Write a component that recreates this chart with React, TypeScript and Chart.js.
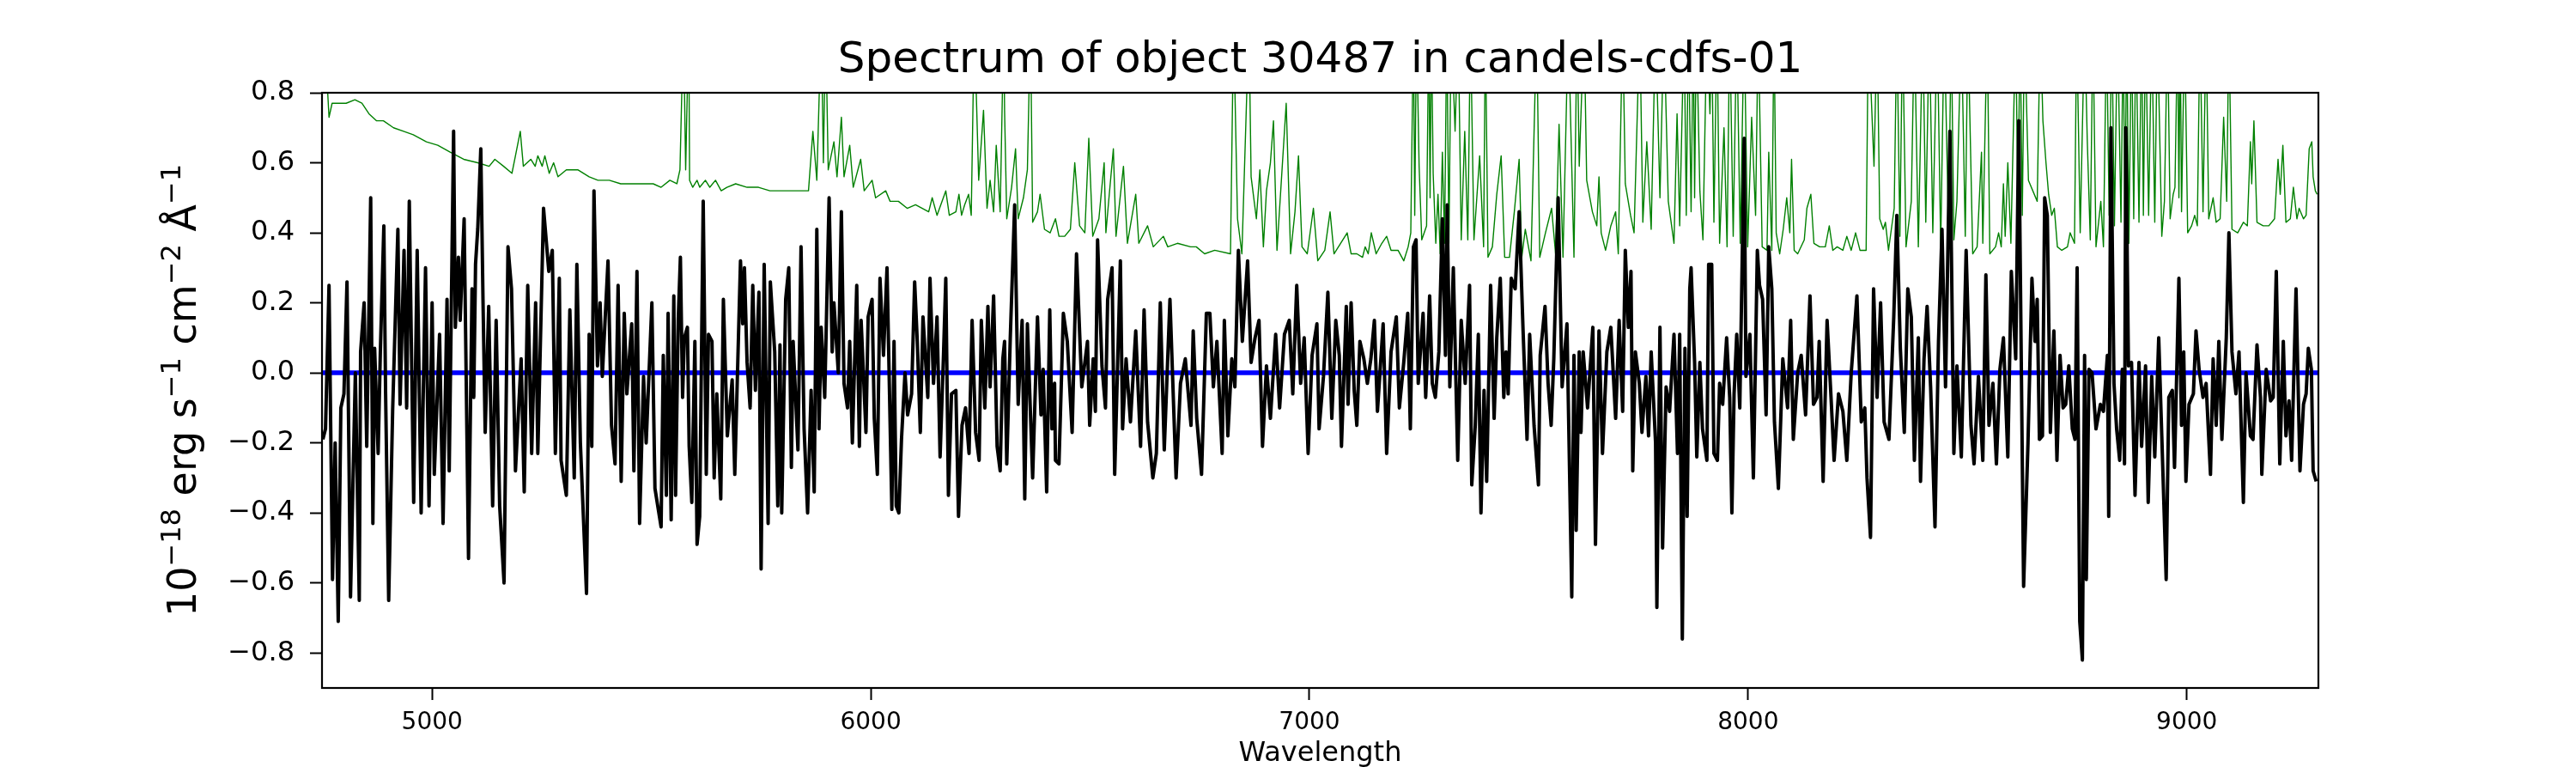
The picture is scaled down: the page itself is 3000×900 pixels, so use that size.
import { useEffect, useRef } from "react";
import { Chart, registerables, type Plugin } from "chart.js";

Chart.register(...registerables);

// axis ticks
const xTicks = [5000, 6000, 7000, 8000, 9000];
const yTicks = [-0.8, -0.6, -0.4, -0.2, 0.0, 0.2, 0.4, 0.6, 0.8];

const fluxWave = [
  4751, 4757, 4765, 4773, 4779, 4786, 4792, 4799, 4806, 4814,
  4825, 4834, 4837, 4845, 4851, 4860, 4865, 4869, 4877, 4882,
  4890, 4894, 4901, 4910, 4922, 4927, 4936, 4942, 4948, 4958,
  4966, 4975, 4985, 4993, 5000, 5005, 5017, 5025, 5034, 5039,
  5049, 5053, 5060, 5064, 5073, 5083, 5091, 5095, 5099, 5104,
  5111, 5116, 5121, 5129, 5138, 5146, 5154, 5164, 5173, 5181,
  5190, 5203, 5210, 5218, 5227, 5236, 5241, 5254, 5266, 5274,
  5281, 5290, 5294, 5306, 5314, 5324, 5330, 5338, 5352, 5358,
  5364, 5369, 5377, 5383, 5388, 5401, 5409, 5417, 5424, 5431,
  5438, 5444, 5455, 5460, 5467, 5473, 5482, 5488, 5501, 5508,
  5522, 5527, 5534, 5538, 5545, 5551, 5555, 5561, 5566, 5571,
  5575, 5582, 5586, 5592, 5599, 5604, 5610, 5618, 5625, 5630,
  5638, 5643, 5649, 5658, 5664, 5673, 5684, 5690, 5703, 5708,
  5712, 5718, 5725, 5731, 5737, 5745, 5750, 5757, 5766, 5771,
  5781, 5788, 5793, 5797, 5806, 5813, 5819, 5823, 5834, 5841,
  5848, 5856, 5864, 5871, 5877, 5882, 5887, 5895, 5905, 5912,
  5916, 5926, 5933, 5939, 5947, 5952, 5958, 5968, 5974, 5978,
  5989, 5994, 6003, 6008, 6015, 6021, 6029, 6037, 6048, 6053,
  6058, 6064, 6070, 6078, 6084, 6093, 6100, 6106, 6113, 6119,
  6130, 6135, 6143, 6151, 6158, 6166, 6171, 6177, 6184, 6194,
  6200, 6208, 6216, 6224, 6231, 6239, 6247, 6252, 6260, 6267,
  6272, 6280, 6288, 6295, 6301, 6305, 6310, 6318, 6328, 6336,
  6345, 6351, 6357, 6369, 6380, 6388, 6393, 6401, 6408, 6413,
  6419, 6421, 6429, 6439, 6448, 6459, 6469, 6481, 6494, 6499,
  6507, 6512, 6517, 6527, 6535, 6540, 6550, 6556, 6569, 6574,
  6582, 6592, 6604, 6615, 6623, 6631, 6643, 6651, 6660, 6669,
  6682, 6696, 6706, 6717, 6730, 6735, 6743, 6754, 6765, 6773,
  6781, 6789, 6801, 6806, 6814, 6823, 6830, 6838, 6847, 6859,
  6867, 6876, 6885, 6893, 6902, 6911, 6923, 6932, 6943, 6954,
  6962, 6971, 6980, 6988, 6997, 7006, 7017, 7022, 7032, 7042,
  7051, 7060, 7068, 7073, 7084, 7088, 7095, 7102, 7108, 7115,
  7124, 7132, 7140, 7148, 7155, 7168, 7176, 7186, 7198, 7205,
  7215, 7224, 7230, 7237, 7243, 7248, 7259, 7265, 7274, 7280,
  7287, 7295, 7303, 7310, 7314, 7320, 7328, 7338, 7346, 7355,
  7365, 7370, 7378, 7385, 7391, 7398, 7404, 7413, 7421, 7427,
  7435, 7443, 7448, 7453, 7460, 7469, 7478, 7487, 7496, 7502,
  7512, 7522, 7526, 7537, 7544, 7551, 7557, 7567, 7576, 7587,
  7598, 7603, 7608, 7615, 7619, 7624, 7634, 7646, 7652, 7660,
  7668, 7678, 7687, 7698, 7706, 7714, 7720, 7727, 7733, 7737,
  7743, 7752, 7758, 7767, 7773, 7779, 7789, 7792, 7799, 7805,
  7813, 7821, 7831, 7839, 7844, 7850, 7856, 7861, 7867, 7870,
  7878, 7883, 7890, 7896, 7906, 7910, 7917, 7922, 7930, 7935,
  7942, 7951, 7958, 7963, 7968, 7974, 7981, 7991, 7995, 8004,
  8012, 8021, 8026, 8033, 8041, 8047, 8054, 8060, 8069, 8079,
  8090, 8097, 8103, 8113, 8121, 8131, 8141, 8149, 8157, 8162,
  8171, 8180, 8189, 8196, 8206, 8216, 8225, 8235, 8248, 8258,
  8266, 8271, 8279, 8286, 8294, 8302, 8310, 8321, 8332, 8339,
  8347, 8356, 8364, 8372, 8379, 8388, 8393, 8401, 8408, 8416,
  8426, 8434, 8442, 8450, 8460, 8469, 8476, 8486, 8497, 8508,
  8515, 8525, 8535, 8542, 8549, 8558, 8566, 8574, 8582, 8592,
  8600, 8610, 8617, 8628, 8638, 8647, 8654, 8659, 8664, 8671,
  8676, 8682, 8689, 8697, 8704, 8711, 8718, 8724, 8731, 8739,
  8745, 8750, 8756, 8762, 8767, 8771, 8777, 8784, 8793, 8803,
  8810, 8819, 8822, 8827, 8834, 8840, 8847, 8853, 8858, 8861,
  8867, 8874, 8882, 8891, 8897, 8906, 8912, 8920, 8927, 8936,
  8943, 8953, 8959, 8967, 8972, 8982, 8988, 8993, 8998, 9005,
  9015, 9021, 9028, 9037, 9044, 9054, 9060, 9067, 9073, 9080,
  9090, 9096, 9103, 9112, 9119, 9129, 9135, 9145, 9151, 9160,
  9168, 9171, 9181, 9191, 9197, 9204, 9212, 9220, 9226, 9233,
  9239, 9249, 9258, 9266, 9272, 9277, 9284, 9288, 9295,
];
const fluxValues = [
  -0.19, -0.16, 0.25, -0.59, -0.2, -0.71, -0.1, -0.06, 0.26, -0.64,
  0.0, -0.65, 0.06, 0.2, -0.21, 0.5, -0.43, 0.07, -0.23, 0.06,
  0.42, -0.06, -0.65, -0.11, 0.41, -0.09, 0.35, -0.1, 0.49, -0.37,
  0.35, -0.4, 0.3, -0.38, 0.2, -0.29, 0.11, -0.43, 0.21, -0.28,
  0.69, 0.13, 0.33, 0.15, 0.44, -0.53, 0.24, -0.07, 0.31, 0.41,
  0.64, 0.21, -0.17, 0.19, -0.38, 0.15, -0.38, -0.6, 0.36, 0.24,
  -0.28, 0.04, -0.34, 0.25, -0.23, 0.2, -0.23, 0.47, 0.29, 0.35,
  -0.23, 0.27, -0.25, -0.35, 0.18, -0.3, 0.31, -0.2, -0.63, 0.11,
  -0.21, 0.52, 0.02, 0.2, -0.01, 0.32, -0.15, -0.26, 0.25, -0.31,
  0.17, -0.06, 0.14, -0.28, 0.29, -0.43, -0.01, -0.2, 0.2, -0.33,
  -0.44, 0.05, -0.35, 0.17, -0.42, 0.22, -0.35, 0.15, 0.33, -0.07,
  0.1, 0.13, -0.21, -0.37, 0.09, -0.49, -0.41, 0.49, -0.29, 0.11,
  0.09, -0.3, -0.06, -0.36, 0.21, -0.18, -0.02, -0.29, 0.32, 0.14,
  0.3, 0.03, -0.1, 0.25, -0.05, 0.23, -0.56, 0.31, -0.43, 0.26,
  0.06, -0.38, 0.08, -0.4, 0.21, 0.3, -0.27, 0.09, -0.22, 0.36,
  -0.16, -0.4, -0.05, -0.34, 0.41, -0.16, 0.13, -0.07, 0.5, 0.06,
  0.2, 0.0, 0.46, -0.03, -0.1, 0.09, -0.2, 0.25, -0.21, 0.15,
  -0.17, 0.16, 0.21, -0.13, -0.29, 0.27, 0.05, 0.3, -0.39, 0.09,
  -0.38, -0.4, -0.19, 0.0, -0.12, -0.06, 0.26, 0.09, -0.17, 0.16,
  -0.07, 0.27, -0.03, 0.16, -0.24, 0.06, 0.27, -0.35, -0.06, -0.05,
  -0.41, -0.15, -0.1, -0.23, 0.15, -0.17, -0.25, 0.15, -0.1, 0.19,
  -0.04, 0.22, -0.21, -0.28, 0.04, 0.09, -0.26, 0.1, 0.48, -0.09,
  0.15, -0.36, 0.14, -0.3, 0.16, -0.12, 0.01, -0.34, 0.18, -0.16,
  -0.03, -0.25, -0.26, 0.17, 0.09, -0.17, 0.34, -0.04, 0.09, -0.15,
  0.04, -0.11, 0.38, 0.02, -0.1, 0.21, 0.3, -0.29, 0.32, -0.16,
  0.04, -0.14, 0.12, -0.21, 0.18, -0.14, -0.3, -0.23, 0.2, -0.22,
  0.21, -0.3, -0.03, 0.04, -0.15, 0.12, -0.13, -0.29, 0.17, 0.17,
  -0.04, 0.09, -0.23, 0.15, -0.18, 0.04, -0.04, 0.35, 0.09, 0.32,
  0.03, 0.1, 0.15, -0.21, 0.02, -0.13, 0.11, -0.1, 0.11, 0.15,
  -0.06, 0.25, -0.03, 0.1, -0.23, 0.05, 0.14, -0.16, -0.01, 0.23,
  -0.13, 0.15, 0.05, -0.21, 0.19, -0.09, 0.2, -0.05, -0.15, 0.09,
  0.04, -0.03, 0.04, 0.15, -0.11, 0.14, -0.23, 0.06, 0.16, -0.1,
  0.03, 0.17, -0.16, 0.36, 0.38, -0.03, 0.17, -0.07, 0.22, -0.03,
  -0.07, 0.06, 0.44, 0.05, 0.48, -0.04, 0.3, -0.25, 0.15, -0.03,
  0.25, -0.32, -0.15, 0.11, -0.4, -0.05, -0.31, 0.25, -0.13, 0.1,
  0.27, -0.07, 0.06, -0.06, 0.27, 0.24, 0.46, 0.12, -0.19, 0.11,
  -0.15, -0.32, 0.05, 0.19, -0.03, -0.15, 0.04, 0.5, -0.04, 0.14,
  -0.64, 0.05, -0.45, 0.06, -0.17, 0.06, -0.1, 0.13, -0.49, 0.12,
  -0.23, 0.06, 0.13, -0.13, 0.15, -0.11, 0.35, 0.13, 0.29, -0.28,
  0.06, -0.03, -0.17, -0.01, -0.18, 0.06, -0.2, -0.67, 0.13, -0.5,
  -0.04, -0.11, 0.11, -0.23, 0.11, -0.76, 0.07, -0.41, 0.24, 0.3,
  0.03, -0.24, 0.03, -0.16, -0.25, 0.31, 0.31, -0.23, -0.25, -0.03,
  -0.09, 0.1, -0.07, -0.4, -0.06, 0.11, -0.1, 0.67, -0.01, 0.11,
  -0.3, 0.35, 0.25, 0.21, -0.12, 0.36, 0.24, -0.14, -0.33, 0.04,
  -0.1, 0.15, -0.19, 0.0, 0.05, -0.12, 0.22, -0.09, -0.07, 0.09,
  -0.31, 0.15, -0.07, -0.25, -0.06, -0.11, -0.25, 0.0, 0.22, -0.14,
  -0.1, -0.3, -0.47, 0.24, -0.07, 0.2, -0.14, -0.19, 0.16, 0.45,
  0.07, -0.17, 0.24, 0.16, -0.25, 0.1, -0.31, 0.04, 0.19, -0.04,
  -0.44, 0.09, 0.41, -0.04, 0.69, -0.23, 0.02, -0.24, 0.35, -0.15,
  -0.26, -0.01, -0.25, 0.28, -0.15, -0.03, -0.26, 0.01, 0.1, -0.24,
  0.29, 0.04, 0.72, -0.61, -0.2, 0.27, 0.09, 0.21, -0.19, -0.18,
  0.5, 0.45, -0.17, 0.12, -0.25, 0.05, -0.1, -0.09, 0.02, -0.16,
  -0.19, 0.3, -0.71, -0.82, 0.05, -0.59, 0.01, 0.0, -0.16, -0.09,
  -0.11, 0.05, -0.41, 0.7, -0.03, -0.16, -0.25, 0.01, -0.26, 0.7,
  0.02, 0.03, -0.35, 0.03, -0.21, 0.02, -0.37, -0.01, -0.24, 0.1,
  -0.18, -0.59, -0.07, -0.05, -0.27, 0.27, -0.15, 0.06, -0.31, -0.09,
  -0.06, 0.12, 0.01, -0.07, -0.03, -0.29, 0.04, -0.15, 0.09, -0.19,
  0.1, 0.4, 0.06, -0.06, 0.06, -0.37, 0.0, -0.18, -0.19, 0.08,
  -0.07, -0.29, 0.01, -0.08, -0.07, 0.29, -0.26, 0.09, -0.18, -0.08,
  -0.25, 0.24, -0.28, -0.09, -0.06, 0.07, 0.01, -0.28, -0.31,
];

// noise / error spectrum (green), spikes run off the top of the axes
const noiseWave = [
  4750, 4762, 4765, 4772, 4804, 4824, 4840, 4856, 4873, 4889,
  4912, 4935, 4957, 4987, 5013, 5042, 5072, 5104, 5130, 5143,
  5163, 5182, 5190, 5201, 5208, 5225, 5235, 5241, 5251, 5257,
  5267, 5277, 5287, 5306, 5332, 5358, 5378, 5404, 5430, 5459,
  5482, 5504, 5522, 5542, 5558, 5565, 5573, 5578, 5585, 5587,
  5594, 5604, 5610, 5623, 5633, 5646, 5659, 5672, 5692, 5718,
  5744, 5770, 5796, 5828, 5858, 5868, 5877, 5887, 5892, 5897,
  5903, 5916, 5923, 5933, 5939, 5952, 5960, 5977, 5985, 6003,
  6011, 6034, 6044, 6063, 6083, 6102, 6132, 6140, 6151, 6171,
  6179, 6194, 6201, 6207, 6214, 6223, 6229, 6236, 6246, 6257,
  6265, 6272, 6280, 6286, 6295, 6303, 6305, 6310, 6321, 6330,
  6336, 6348, 6357, 6364, 6369, 6380, 6386, 6396, 6409, 6421,
  6429, 6442, 6455, 6465, 6476, 6488, 6497, 6506, 6520, 6532,
  6536, 6543, 6553, 6559, 6576, 6585, 6604, 6611, 6631, 6644,
  6667, 6677, 6699, 6729, 6742, 6761, 6784, 6820, 6827, 6836,
  6846, 6862, 6867, 6879, 6887, 6895, 6902, 6911, 6918, 6926,
  6937, 6947, 6957, 6967, 6975, 6983, 6995, 7009, 7019, 7035,
  7047, 7056, 7071, 7086, 7095, 7108, 7121, 7127, 7134, 7141,
  7152, 7165, 7176, 7186, 7202, 7215, 7225, 7231, 7237, 7240, 7244,
  7250, 7256, 7267, 7272, 7275, 7278, 7282, 7288, 7293, 7298, 7303,
  7308, 7313, 7318, 7323, 7332, 7339, 7346, 7354, 7361, 7367,
  7375, 7388, 7397, 7401, 7407, 7417, 7427, 7437, 7445, 7456,
  7467, 7478, 7484, 7492, 7505, 7518, 7525, 7538, 7552, 7561,
  7569, 7578, 7590, 7603, 7610, 7615, 7626, 7632, 7645, 7655,
  7660, 7665, 7675, 7687, 7698, 7704, 7714, 7720, 7732, 7740,
  7753, 7760, 7769, 7779, 7789, 7799, 7808, 7818, 7831, 7838,
  7844, 7854, 7859, 7864, 7870, 7875, 7878, 7882, 7890, 7897, 7906, 7913,
  7917, 7922, 7929, 7935, 7945, 7952, 7958, 7966, 7974, 7982,
  7991, 7999, 8008, 8017, 8023, 8032, 8043, 8047, 8054, 8059,
  8064, 8072, 8080, 8088, 8095, 8099, 8105, 8113, 8128, 8134,
  8143, 8150, 8163, 8176, 8185, 8193, 8203, 8216, 8225, 8235,
  8245, 8255, 8269, 8274, 8287, 8294, 8300, 8308, 8313, 8320,
  8333, 8339, 8346, 8352, 8360, 8372, 8379, 8388, 8398, 8405,
  8413, 8421, 8431, 8439, 8447, 8457, 8463, 8469, 8476, 8486,
  8495, 8501, 8512, 8522, 8532, 8535, 8545, 8551, 8564, 8571,
  8577, 8582, 8586, 8592, 8599, 8610, 8615, 8620, 8625, 8630, 8639, 8659,
  8666, 8672, 8679, 8685, 8692, 8698, 8705, 8715, 8728, 8734,
  8744, 8749, 8757, 8767, 8773, 8780, 8786, 8793, 8804, 8810,
  8817, 8823, 8829, 8835, 8842, 8850, 8855, 8859, 8863, 8868, 8874, 8879, 8884,
  8891, 8897, 8901, 8906, 8913, 8920, 8927, 8933, 8943, 8949, 8956,
  8962, 8969, 8973, 8979, 8982, 8985, 8988, 8995, 9002, 9011, 9018,
  9024, 9030, 9037, 9044, 9050, 9060, 9067, 9076, 9084, 9091,
  9096, 9103, 9116, 9129, 9138, 9145, 9148, 9153, 9160, 9174,
  9187, 9200, 9208, 9213, 9219, 9226, 9236, 9243, 9251, 9256,
  9266, 9272, 9279, 9285, 9288, 9293, 9297,
];
const noiseValues = [
  0.85, 0.8, 0.73, 0.77, 0.77, 0.78, 0.77, 0.74, 0.72, 0.72,
  0.7, 0.69, 0.68, 0.66, 0.65, 0.63, 0.61, 0.6, 0.59, 0.61,
  0.59, 0.57, 0.62, 0.69, 0.59, 0.61, 0.59, 0.62, 0.59, 0.62,
  0.57, 0.6, 0.56, 0.58, 0.58, 0.56, 0.55, 0.55, 0.54, 0.54,
  0.54, 0.54, 0.53, 0.55, 0.54, 0.58, 1.0, 0.58, 1.0, 0.55,
  0.53, 0.55, 0.53, 0.55, 0.53, 0.55, 0.52, 0.53, 0.54, 0.53,
  0.53, 0.52, 0.52, 0.52, 0.52, 0.69, 0.55, 1.0, 0.6, 1.0,
  0.58, 0.66, 0.56, 0.73, 0.56, 0.65, 0.53, 0.61, 0.52, 0.55,
  0.5, 0.52, 0.49, 0.49, 0.47, 0.48, 0.46, 0.5, 0.45, 0.52,
  0.45, 0.46, 0.51, 0.45, 0.48, 0.51, 0.45, 1.0, 0.55, 0.75,
  0.47, 0.55, 0.46, 0.65, 0.46, 1.0, 0.75, 0.44, 0.53, 0.64,
  0.44, 0.5, 0.58, 1.0, 0.43, 0.46, 0.51, 0.41, 0.4, 0.44,
  0.39, 0.39, 0.41, 0.6, 0.42, 0.4, 0.67, 0.39, 0.44, 0.6,
  0.4, 0.5, 0.64, 0.39, 0.59, 0.37, 0.51, 0.37, 0.42, 0.36,
  0.39, 0.36, 0.37, 0.36, 0.36, 0.34, 0.35, 0.34, 1.0, 0.44,
  0.34, 1.0, 0.56, 0.44, 0.58, 0.36, 0.52, 0.6, 0.72, 0.35,
  0.57, 0.77, 0.34, 0.46, 0.62, 0.36, 0.34, 0.47, 0.32, 0.35,
  0.46, 0.34, 0.37, 0.4, 0.34, 0.34, 0.33, 0.36, 0.34, 0.4,
  0.34, 0.37, 0.39, 0.35, 0.35, 0.32, 0.36, 0.4, 1.0, 0.45, 1.0,
  0.59, 0.38, 0.42, 1.0, 0.5, 1.0, 0.57, 0.37, 0.51, 0.34, 0.63,
  0.37, 1.0, 0.37, 1.0, 0.69, 1.0, 0.38, 0.69, 0.38, 1.0,
  0.38, 0.62, 0.36, 1.0, 0.33, 0.36, 0.51, 0.62, 0.33, 0.33,
  0.46, 0.61, 0.33, 0.41, 0.32, 1.0, 0.33, 0.4, 0.47, 0.34,
  0.71, 0.33, 1.0, 0.33, 1.0, 0.59, 1.0, 0.55, 0.46, 0.42,
  0.56, 0.4, 0.35, 0.42, 0.46, 0.34, 1.0, 0.54, 0.45, 0.4,
  1.0, 0.43, 0.66, 0.41, 1.0, 0.5, 1.0, 0.49, 0.37, 0.74,
  0.42, 1.0, 0.45, 1.0, 0.46, 1.0, 0.5, 1.0, 0.52, 0.38, 1.0, 0.74,
  1.0, 0.43, 1.0, 0.37, 0.7, 0.36, 1.0, 0.39, 1.0, 0.37,
  1.0, 0.36, 0.73, 0.45, 1.0, 0.36, 0.35, 0.63, 0.35, 1.0,
  0.4, 0.34, 0.41, 0.5, 0.4, 0.61, 0.35, 0.34, 0.38, 0.47,
  0.51, 0.37, 0.36, 0.36, 0.42, 0.35, 0.36, 0.35, 0.39, 0.35,
  0.4, 0.35, 0.35, 1.0, 0.59, 1.0, 0.44, 0.41, 0.43, 0.35,
  0.47, 1.0, 0.39, 1.0, 0.36, 0.49, 1.0, 0.36, 1.0, 0.43,
  1.0, 0.4, 1.0, 0.36, 1.0, 0.4, 1.0, 0.38, 0.49, 1.0,
  0.39, 1.0, 0.34, 0.36, 0.63, 0.37, 1.0, 0.34, 0.36, 0.4,
  0.36, 0.54, 0.39, 0.6, 0.37, 1.0, 0.45, 1.0, 0.45, 1.0, 0.55, 0.49,
  1.0, 0.72, 0.6, 0.51, 0.45, 0.47, 0.36, 0.35, 0.36, 0.4,
  0.37, 1.0, 0.4, 1.0, 0.67, 0.38, 1.0, 0.36, 0.49, 0.36,
  1.0, 0.45, 1.0, 0.42, 1.0, 0.43, 1.0, 0.42, 1.0, 0.37, 1.0, 0.44, 1.0,
  0.43, 1.0, 0.45, 1.0, 0.45, 1.0, 0.43, 1.0, 0.39, 0.49, 1.0,
  0.44, 0.51, 0.53, 1.0, 0.5, 1.0, 0.46, 1.0, 0.4, 0.42, 0.45,
  0.42, 1.0, 0.46, 1.0, 0.44, 0.5, 0.43, 0.44, 0.73, 0.49,
  1.0, 0.41, 0.4, 0.43, 0.42, 0.66, 0.54, 0.72, 0.43, 0.42,
  0.42, 0.44, 0.61, 0.51, 0.65, 0.43, 0.44, 0.53, 0.44, 0.47,
  0.44, 0.45, 0.64, 0.66, 0.56, 0.52, 0.51,
];

// model continuum (blue)
const modelWave = [4749, 9300];
const modelValues = [0, 0];

const FONT = "'DejaVu Sans', 'Liberation Sans', sans-serif";

const toPoints = (xs: number[], ys: number[]) =>
  xs.map((x, i) => ({ x, y: ys[i] }));

const fmtTick = (v: number) => {
  const s = Math.abs(v) < 1e-9 ? "0.0" : v.toFixed(1);
  return s.replace("-", "\u2212");
};

// frame, title and axis labels drawn the matplotlib way
const decorations: Plugin<"line"> = {
  id: "decorations",
  afterDatasetsDraw(chart) {
    const { ctx, chartArea } = chart;
    ctx.save();
    ctx.strokeStyle = "#000";
    ctx.lineWidth = 2.2;
    ctx.strokeRect(
      chartArea.left,
      chartArea.top,
      chartArea.right - chartArea.left,
      chartArea.bottom - chartArea.top
    );
    ctx.restore();
  },
  afterDraw(chart) {
    const { ctx, chartArea } = chart;
    const cx = (chartArea.left + chartArea.right) / 2;
    const cy = (chartArea.top + chartArea.bottom) / 2;
    ctx.save();
    ctx.fillStyle = "#000";
    ctx.textBaseline = "alphabetic";
    ctx.textAlign = "center";
    ctx.font = `50px ${FONT}`;
    ctx.fillText("Spectrum of object 30487 in candels-cdfs-01", cx, 84);
    ctx.font = `32px ${FONT}`;
    ctx.fillText("Wavelength", cx, 886);

    // y label with superscripts
    const parts: [string, boolean][] = [
      ["10", false],
      ["\u221218", true],
      [" erg s", false],
      ["\u22121", true],
      [" cm", false],
      ["\u22122", true],
      [" \u00c5", false],
      ["\u22121", true],
    ];
    const big = `46px ${FONT}`;
    const small = `32px ${FONT}`;
    let total = 0;
    const widths = parts.map(([t, sup]) => {
      ctx.font = sup ? small : big;
      const w = ctx.measureText(t).width;
      total += w;
      return w;
    });
    ctx.translate(228, cy);
    ctx.rotate(-Math.PI / 2);
    ctx.textAlign = "left";
    let x = -total / 2;
    parts.forEach(([t, sup], i) => {
      ctx.font = sup ? small : big;
      ctx.fillText(t, x, sup ? -18 : 0);
      x += widths[i];
    });
    ctx.restore();
  },
};

export default function App() {
  const canvasRef = useRef<HTMLCanvasElement | null>(null);
  const chartRef = useRef<Chart<"line"> | null>(null);

  useEffect(() => {
    document.body.style.margin = "0";
    if (!canvasRef.current) return;
    const ctx = canvasRef.current.getContext("2d");
    if (!ctx) return;
    if (chartRef.current) chartRef.current.destroy();

    chartRef.current = new Chart(ctx, {
      type: "line",
      data: {
        datasets: [
          {
            label: "flux",
            data: toPoints(fluxWave, fluxValues),
            borderColor: "#000000",
            borderWidth: 4,
            borderJoinStyle: "round",
            pointRadius: 0,
            tension: 0,
            order: 0,
          },
          {
            label: "model",
            data: toPoints(modelWave, modelValues),
            borderColor: "#0000ff",
            borderWidth: 5.5,
            pointRadius: 0,
            tension: 0,
            order: 1,
          },
          {
            label: "noise",
            data: toPoints(noiseWave, noiseValues),
            borderColor: "#008000",
            borderWidth: 1.4,
            borderJoinStyle: "round",
            pointRadius: 0,
            tension: 0,
            order: 2,
          },
        ],
      },
      options: {
        responsive: false,
        animation: false,
        devicePixelRatio: 1,
        layout: { padding: { top: 108, right: 300, left: 0, bottom: 0 } },
        plugins: {
          legend: { display: false },
          title: { display: false },
          tooltip: { enabled: false },
        },
        scales: {
          x: {
            type: "linear",
            min: 4749,
            max: 9300,
            afterBuildTicks: (s) => {
              s.ticks = xTicks.map((value) => ({ value }));
            },
            afterFit: (s) => {
              s.height = 99;
            },
            grid: {
              display: true,
              drawOnChartArea: false,
              drawTicks: true,
              tickLength: 14,
              tickWidth: 2,
              tickColor: "#000",
            },
            border: { display: false },
            ticks: {
              color: "#000",
              font: { family: FONT, size: 28 },
              padding: 10,
              maxRotation: 0,
              autoSkip: false,
              callback: (v) => String(v),
            },
          },
          y: {
            type: "linear",
            min: -0.9,
            max: 0.8,
            afterBuildTicks: (s) => {
              s.ticks = yTicks.map((value) => ({ value }));
            },
            afterFit: (s) => {
              s.width = 375;
            },
            grid: {
              display: true,
              drawOnChartArea: false,
              drawTicks: true,
              tickLength: 14,
              tickWidth: 2,
              tickColor: "#000",
            },
            border: { display: false },
            ticks: {
              color: "#000",
              font: { family: FONT, size: 32 },
              padding: 18,
              autoSkip: false,
              callback: (v) => fmtTick(Number(v)),
            },
          },
        },
      },
      plugins: [decorations],
    });

    return () => {
      chartRef.current?.destroy();
      chartRef.current = null;
    };
  }, []);

  return (
    <div style={{ width: 3000, height: 900, background: "#fff" }}>
      <canvas ref={canvasRef} width={3000} height={900} style={{ display: "block" }} />
    </div>
  );
}
